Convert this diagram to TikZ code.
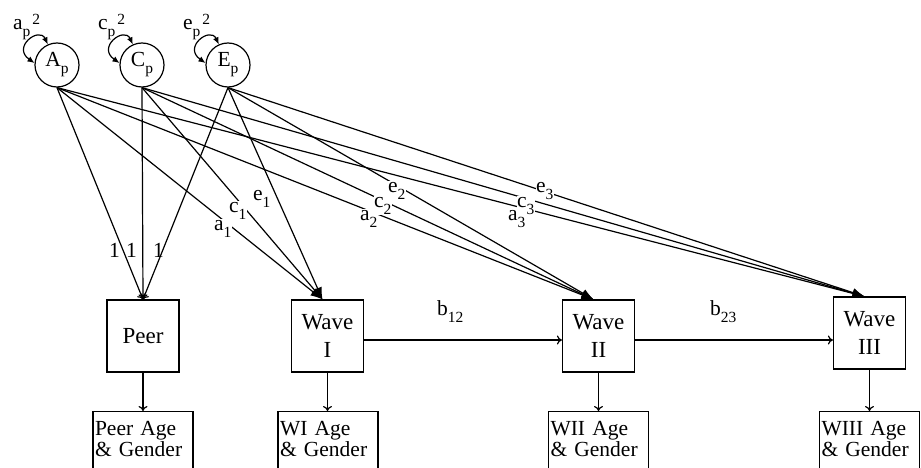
\documentclass[tikz,border=0pt]{standalone}
\usepackage{fontspec}
\setmainfont{Liberation Serif}
\usetikzlibrary{arrows.meta}
\newcommand\sbs[1]{\raisebox{-7pt}{\fontsize{15.5}{16}\selectfont #1}}
\newcommand\sps[1]{\raisebox{5pt}{\fontsize{15.5}{16}\selectfont #1}}
\begin{document}
\begin{tikzpicture}[x=1pt,y=1pt, line width=1.2pt,
  lat/.style={circle, draw, minimum size=44pt, inner sep=0pt, font=\fontsize{21.5}{24}\selectfont},
  obs/.style={rectangle, draw, minimum width=72pt, minimum height=72pt, inner sep=0pt, align=center, font=\fontsize{23}{28}\selectfont},
  cov/.style={rectangle, draw, anchor=north, text width=96pt, inner xsep=2pt, inner ysep=10pt, text depth=40pt, align=left, font=\fontsize{21.5}{21}\selectfont},
  lbl/.style={font=\fontsize{21.5}{24}\selectfont, inner sep=0.5pt, anchor=base west},
  lblw/.style={lbl, fill=white},
  big/.style={-{Latex[length=12pt,width=9pt]}},
  small/.style={-{To[length=5pt,width=9pt]}},
  loopar/.style={{Latex[length=7pt,width=6pt]}-{Latex[length=7pt,width=6pt]}}
]
\useasboundingbox (0,0) rectangle (921,467);

\node[lat] (A) at (57,402) {A\sbs{p}};
\node[lat] (C) at (142,402) {C\sbs{p}};
\node[lat] (E) at (228,402) {E\sbs{p}};

\node[obs] (P) at (143,131) {Peer};
\node[obs] (W1) at (327.5,131) {Wave\\I};
\node[obs] (W2) at (598.5,131) {Wave\\II};
\node[obs] (W3) at (869.5,134) {Wave\\III};

\node[cov] (PA) at (143,56) {Peer Age\\\& Gender};
\node[cov] (WA1) at (328,56) {WI Age\\\& Gender};
\node[cov] (WA2) at (598.5,56) {WII Age\\\& Gender};
\node[cov] (WA3) at (869.5,56) {WIII Age\\\& Gender};

% self loops
\foreach \s in {A,C,E}{
  \draw[loopar] (\s.114) .. controls +(115:20) and +(145:28) .. (\s.175);
}
\node[lbl] (la) at (12,437) {a\sbs{p}\kern2pt\sps{2}};
\node[lbl] (lc) at (97,437) {c\sbs{p}\kern2pt\sps{2}};
\node[lbl] (le) at (182,437) {e\sbs{p}\kern2pt\sps{2}};

% paths
\foreach \s in {A,C,E}{
  \draw[small] (\s.south) -- (P.north);
  \foreach \t in {W1,W2,W3}{
    \draw[big] (\s.south) -- ([xshift=-5pt]\t.north);
  }
}

\draw[small] ([yshift=-4pt]W1.east) -- ([yshift=-4pt]W2.west);
\draw[small] ([yshift=-4pt]W2.east) -- ([yshift=-4pt]W2.east -| W3.west);

\draw[small] (P.south) -- (PA.north);
\draw[small] (W1.south) -- (W1.south |- WA1.north);
\draw[small] (W2.south) -- (WA2.north);
\draw[small] (W3.south) -- (WA3.north);

% labels
\node[lbl] (o1) at (108,210) {1};
\node[lbl] (o2) at (125,210) {1};
\node[lbl] (o3) at (152,210) {1};
\node[lblw] (a1) at (213,237) {a\sbs{1}};
\node[lblw] (c1) at (228,255) {c\sbs{1}};
\node[lblw] (e1) at (252,267) {e\sbs{1}};
\node[lblw] (a2) at (359,247) {a\sbs{2}};
\node[lblw] (c2) at (373,260) {c\sbs{2}};
\node[lblw] (e2) at (387,275) {e\sbs{2}};
\node[lblw] (a3) at (507,247) {a\sbs{3}};
\node[lblw] (c3) at (516,260) {c\sbs{3}};
\node[lblw] (e3) at (535,275) {e\sbs{3}};
\node[lbl] (b12) at (436,152) {b\sbs{12}};
\node[lbl] (b23) at (709,152) {b\sbs{23}};
\end{tikzpicture}
\end{document}
